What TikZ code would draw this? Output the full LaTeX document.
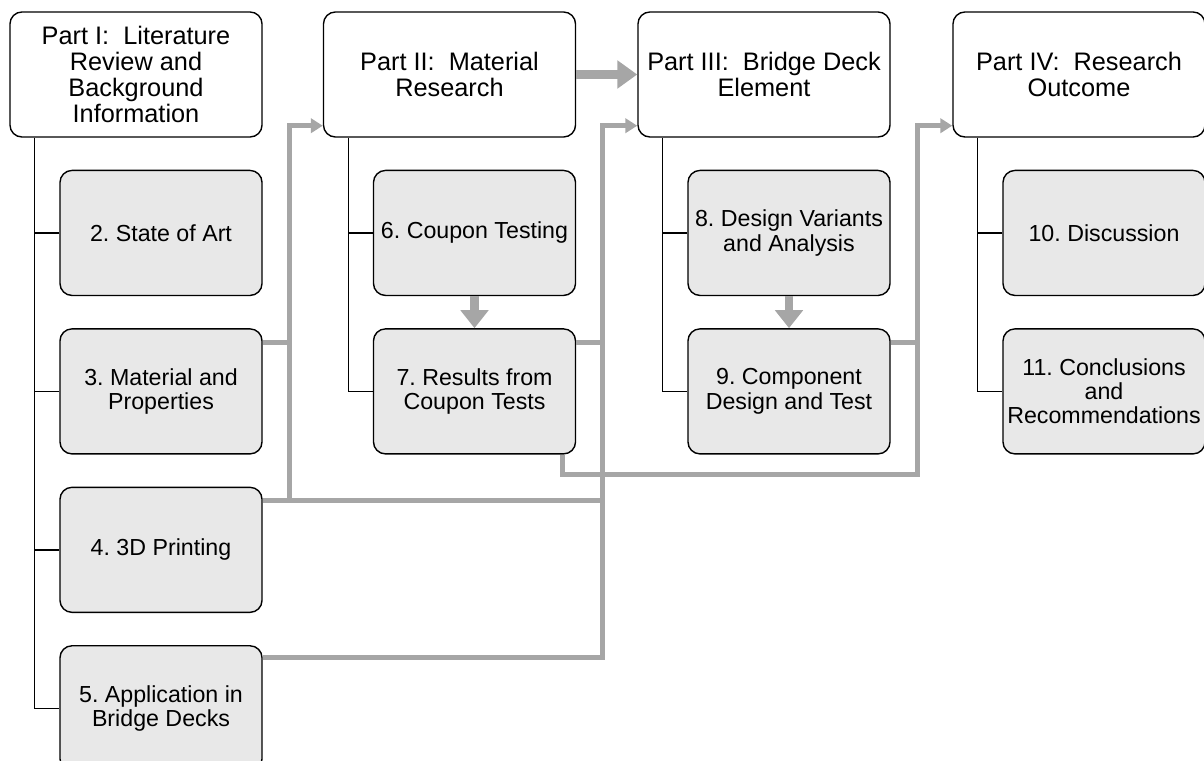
\documentclass[tikz,border=0pt]{standalone}
\usepackage{fontspec}
\setmainfont{Liberation Sans}
\usepackage{tikz}
\usetikzlibrary{positioning,calc,arrows.meta}
\definecolor{flowgray}{HTML}{A6A6A6}
\definecolor{boxgray}{HTML}{E8E8E8}
\frenchspacing

\begin{document}
\begin{tikzpicture}[x=0.025cm,y=-0.025cm]
		\tikzstyle{part}=[draw=black, line width=1pt, rounded corners=0.3cm, fill=white, minimum width=6.3cm, minimum height=3.125cm, inner sep=0pt, align=center, font=\fontsize{18}{18.4}\selectfont]
		\tikzstyle{chap}=[draw=black, line width=1pt, rounded corners=0.3cm, fill=boxgray, minimum width=5.05cm, minimum height=3.125cm, inner sep=0pt, align=center, font=\fontsize{16.5}{17.2}\selectfont]
		\tikzstyle{tree}=[line width=1pt, draw=black]
		\tikzstyle{flow}=[line width=3.5pt, draw=flowgray]
		\tikzstyle{bigflow}=[line width=0.24cm, draw=flowgray, -{Triangle[length=0.5cm, width=0.68cm]}]
		\tikzset{>={Triangle[length=0.3cm, width=0.36cm]}}
		\useasboundingbox (0,0) rectangle (1204,761);
		\node[part] (p1) at (136,74.5) {Part I:~~Literature\\Review and\\Background\\Information};
		\node[part] (p2) at (449.5,74.5) {Part II:~~Material\\Research};
		\node[part] (p3) at (764,74.5) {Part III:~~Bridge Deck\\Element};
		\node[part] (p4) at (1079,74.5) {Part IV:~~Research\\Outcome};
		\node[chap, below=0.8cm of p1.south east, anchor=north east] (c2) {2. State of Art};
		\node[chap, below=0.8cm of c2] (c3) {3. Material and\\Properties};
		\node[chap, below=0.8cm of c3] (c4) {4. 3D Printing};
		\node[chap, below=0.8cm of c4] (c5) {5. Application in\\Bridge Decks};
		\node[chap, below=0.8cm of p2.south east, anchor=north east] (c6) {6. Coupon Testing};
		\node[chap, below=0.8cm of c6] (c7) {7. Results from\\Coupon Tests};
		\node[chap, below=0.8cm of p3.south east, anchor=north east] (c8) {8. Design Variants\\and Analysis};
		\node[chap, below=0.8cm of c8] (c9) {9. Component\\Design and Test};
		\node[chap, below=0.8cm of p4.south east, anchor=north east] (c10) {10. Discussion};
		\node[chap, below=0.8cm of c10] (c11) {11. Conclusions\\and\\Recommendations};
		\coordinate (t1) at ($(p1.south west)+(25,0)$);
		\coordinate (t2) at ($(p2.south west)+(26,0)$);
		\coordinate (t3) at ($(p3.south west)+(25,0)$);
		\coordinate (t4) at ($(p4.south west)+(25,0)$);
		\draw[tree] (t1) |- (c5.west);
		\foreach \c in {c2,c3,c4} \draw[tree] (\c.west) -- (\c.west -| t1);
		\draw[tree] (t2) |- (c7.west);
		\draw[tree] (c6.west) -- (c6.west -| t2);
		\draw[tree] (t3) |- (c9.west);
		\draw[tree] (c8.west) -- (c8.west -| t3);
		\draw[tree] (t4) |- (c11.west);
		\draw[tree] (c10.west) -- (c10.west -| t4);
		\draw[flow,->] ($(c3.north east)+(0,14)$) -| ($(p2.south west)+(-33,-12)$) -- ($(p2.south west)+(0,-12)$);
		\draw[flow] ($(c4.north east)+(0,14)$) -| ($(p2.south west)+(-33,-12)$);
		\draw[flow,->] ($(c5.north east)+(0,12)$) -| ($(p3.south west)+(-35,-12)$) -- ($(p3.south west)+(0,-12)$);
		\draw[flow] ($(c4.north east)+(0,14)$) -| ($(p3.south west)+(-35,-12)$);
		\draw[flow] ($(c7.north east)+(0,14)$) -| ($(p3.south west)+(-35,-12)$);
		\draw[flow,->] ($(c9.north east)+(0,14)$) -| ($(p4.south west)+(-35,-12)$) -- ($(p4.south west)+(0,-12)$);
		\draw[flow] ($(c7.south east)+(-14,0)$) |- ($(c9.south east)+(27,20)$) -- ($(c9.north east)+(27,14)$);
		\draw[bigflow] (p2.east) -- (p3.west);
		\draw[bigflow, line width=0.22cm, -{Triangle[length=0.45cm, width=0.68cm]}] (c6.south) -- (c7.north);
		\draw[bigflow, line width=0.22cm, -{Triangle[length=0.45cm, width=0.68cm]}] (c8.south) -- (c9.north);
	\end{tikzpicture}
\end{document}
